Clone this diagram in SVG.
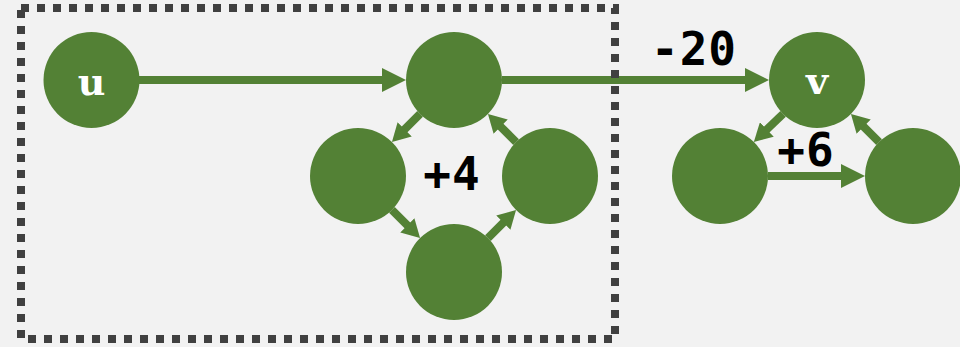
<svg xmlns="http://www.w3.org/2000/svg" width="960" height="347" viewBox="0 0 960 347">
<style>
.node{fill:#538135}
.edge{stroke:#538135;stroke-width:8;fill:none}
.big{marker-end:url(#ah)}
.small{marker-end:url(#as)}
.lbl{font-family:"DejaVu Sans Mono","Liberation Mono",monospace;font-weight:bold;font-size:46px;fill:#000;text-anchor:middle;letter-spacing:1px}
.nl{font-family:"DejaVu Serif","Liberation Serif",serif;font-weight:bold;font-size:38px;fill:#fff;text-anchor:middle}
</style>
<defs>
<marker id="ah" markerUnits="userSpaceOnUse" markerWidth="24" markerHeight="24" refX="14" refY="12" orient="auto">
<path d="M0,0 L24,12 L0,24 z" fill="#538135"/>
</marker>
<marker id="as" markerUnits="userSpaceOnUse" markerWidth="18" markerHeight="20" refX="10" refY="10" orient="auto">
<path d="M0,0 L18,10 L0,20 z" fill="#538135"/>
</marker>
</defs>
<rect width="960" height="347" fill="#f2f2f2"/>
<g id="connectors">
<line class="edge big" x1="139" y1="80" x2="396" y2="80"/>
<line class="edge big" x1="502" y1="80" x2="759" y2="80"/>
<line class="edge big" x1="768" y1="176" x2="855" y2="176"/>
<line class="edge small" x1="420.1" y1="113.9" x2="397.6" y2="136.4"/>
<line class="edge small" x1="391.9" y1="209.9" x2="414.4" y2="232.4"/>
<line class="edge small" x1="487.9" y1="238.1" x2="510.4" y2="215.6"/>
<line class="edge small" x1="516.1" y1="142.1" x2="493.6" y2="119.6"/>
<line class="edge small" x1="783.1" y1="113.9" x2="759.6" y2="136.4"/>
<line class="edge small" x1="879.1" y1="142.1" x2="856.6" y2="119.6"/>
</g>
<g id="u"><circle class="node" cx="91.5" cy="80" r="48"/><text class="nl" x="91.5" y="95">u</text></g>
<g id="c_top"><circle class="node" cx="454" cy="80" r="48"/></g>
<g id="c_left"><circle class="node" cx="358" cy="176" r="48"/></g>
<g id="c_right"><circle class="node" cx="550" cy="176" r="48"/></g>
<g id="c_bottom"><circle class="node" cx="454" cy="272" r="48"/></g>
<g id="v"><circle class="node" cx="817" cy="80" r="48"/><text class="nl" x="817" y="94">v</text></g>
<g id="t_left"><circle class="node" cx="720" cy="176" r="48"/></g>
<g id="t_right"><circle class="node" cx="913" cy="176" r="48"/></g>
<g id="labels">
<text class="lbl" x="694" y="65">-20</text>
<text class="lbl" x="452" y="190">+4</text>
<text class="lbl" x="806" y="166">+6</text>
</g>
<rect x="21" y="8" width="594" height="331" fill="none" stroke="#404040" stroke-width="8" stroke-dasharray="8 8"/>
</svg>
